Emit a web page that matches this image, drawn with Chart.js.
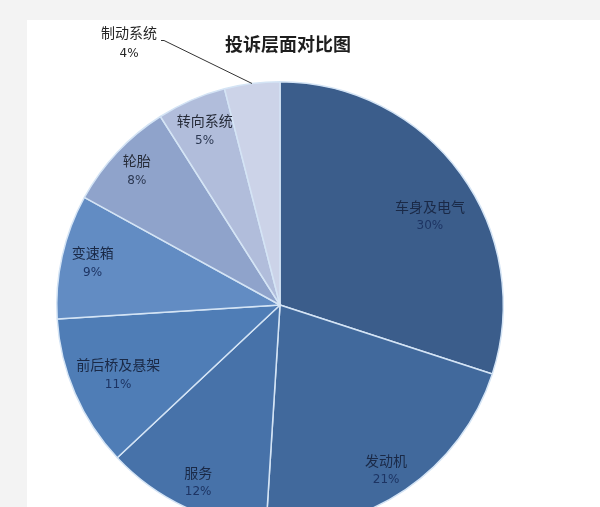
<!DOCTYPE html>
<html>
<head>
<meta charset="utf-8">
<script src="https://cdn.jsdelivr.net/npm/chart.js@4.4.1/dist/chart.umd.min.js"></script>
<style>
  html, body { margin: 0; padding: 0; background: #f3f3f3; overflow: hidden; }
  #page { position: absolute; left: 27px; top: 20px; right: 0; bottom: 0; background: #fff; }
  #wrap { position: absolute; left: 0; top: 0; width: 600px; height: 560px; }
</style>
</head>
<body>
<div id="page"></div>
<div id="wrap"><canvas id="pieChart" width="600" height="560"></canvas></div>
<script>
const categories = ['车身及电气', '发动机', '服务', '前后桥及悬架', '变速箱', '轮胎', '转向系统', '制动系统'];
const shares = [30, 21, 12, 11, 9, 8, 5, 4];
const sliceColors = ['#3b5d8b', '#41699c', '#4772a9', '#4f7db6', '#628cc3', '#8fa3cb', '#b1bddb', '#ccd3e8'];

// label placement: fraction of radius, and where along the slice's angle (0.5 = middle)
// the last one goes outside with a leader line
const labelRadius = [0.78, 0.88, 0.875, 0.79, 0.86, 0.88, 0.85, null];
const labelAlong = [0.55, 0.52, 0.49, 0.5, 0.5, 0.5, 0.5, 0.5];

const labelPlugin = {
	id: 'sliceLabels',
	afterDatasetsDraw(chart) {
		const ctx = chart.ctx;
		const arcs = chart.getDatasetMeta(0).data;
		ctx.save();
		ctx.textAlign = 'center';
		ctx.textBaseline = 'middle';

		arcs.forEach((arc, i) => {
			const p = arc.getProps(['x', 'y', 'startAngle', 'endAngle', 'outerRadius'], true);
			const ang = p.startAngle + (p.endAngle - p.startAngle) * labelAlong[i];
			const name = categories[i];
			const pct = shares[i] + '%';
			const dark = i < 5;
			if (labelRadius[i] !== null) {
				const lx = p.x + Math.cos(ang) * p.outerRadius * labelRadius[i];
				const ly = p.y + Math.sin(ang) * p.outerRadius * labelRadius[i];
				ctx.fillStyle = dark ? '#1a2946' : '#262b38';
				ctx.font = '14px "Noto Sans CJK SC", sans-serif';
				ctx.fillText(name, lx, ly - 10);
				ctx.fillStyle = dark ? '#1d3463' : '#2c3852';
				ctx.font = '12px "DejaVu Sans", sans-serif';
				ctx.fillText(pct, lx, ly + 10);
			} else {
				// outside label with leader line
				const ex = p.x + Math.cos(ang) * p.outerRadius;
				const ey = p.y + Math.sin(ang) * p.outerRadius;
				const tx = ex - 88, ty = ey - 43;
				ctx.strokeStyle = '#333';
				ctx.lineWidth = 1;
				ctx.beginPath();
				ctx.moveTo(ex, ey);
				ctx.lineTo(tx, ty);
				ctx.lineTo(tx - 3, ty);
				ctx.stroke();
				ctx.fillStyle = '#262626';
				ctx.font = '14px "Noto Sans CJK SC", sans-serif';
				ctx.fillText(name, tx - 35, ty - 8);
				ctx.font = '12px "DejaVu Sans", sans-serif';
				ctx.fillText(pct, tx - 35, ty + 13);
			}
		});

		// chart title
		ctx.fillStyle = '#1e1e1e';
		ctx.font = 'bold 18px "Noto Sans CJK SC", sans-serif';
		ctx.fillText('投诉层面对比图', 288, 44);
		ctx.restore();
	}
};

const ctx = document.getElementById('pieChart').getContext('2d');
const pieChart = new Chart(ctx, {
	type: 'pie',
	data: {
		labels: categories,
		datasets: [{
			data: shares,
			backgroundColor: sliceColors,
			borderColor: '#d4e4f5',
			borderWidth: 1.5
		}]
	},
	options: {
		responsive: false,
		animation: false,
		layout: { padding: { left: 56, right: 96, top: 81, bottom: 31 } },
		plugins: {
			legend: { display: false },
			tooltip: { enabled: false },
			title: { display: false }
		}
	},
	plugins: [labelPlugin]
});
</script>
</body>
</html>
